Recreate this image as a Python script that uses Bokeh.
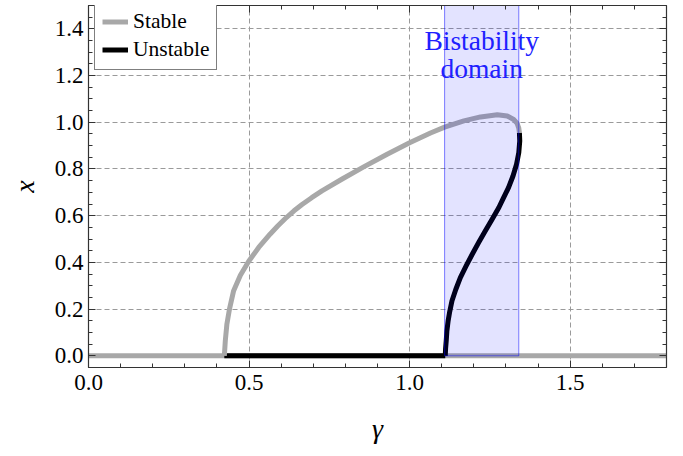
import numpy as np
from bokeh.plotting import figure
from bokeh.models import (Range1d, LinearAxis, FixedTicker, NumeralTickFormatter,
                          CustomJSTickFormatter, Legend, LegendItem, ColumnDataSource)
from bokeh.core.properties import value
from bokeh.embed import file_html
from bokeh.resources import INLINE

# ---------------- data ----------------
stable_upper_gamma = [0.423, 0.424, 0.426, 0.431, 0.439, 0.452, 0.473, 0.499, 0.530,
                      0.566, 0.590, 0.613, 0.640, 0.665, 0.695, 0.727, 0.790, 0.857,
                      0.930, 1.000, 1.065, 1.109, 1.169, 1.221, 1.273, 1.304, 1.324,
                      1.335, 1.340, 1.342]
stable_upper_x = [0.000, 0.020, 0.064, 0.136, 0.200, 0.279, 0.345, 0.405, 0.464,
                  0.522, 0.557, 0.588, 0.621, 0.648, 0.677, 0.706, 0.757, 0.809,
                  0.863, 0.912, 0.954, 0.979, 1.006, 1.023, 1.032, 1.027, 1.012,
                  0.995, 0.975, 0.955]

unstable_upper_gamma = [1.342, 1.343, 1.340, 1.333, 1.322, 1.308, 1.292, 1.278, 1.257,
                        1.236, 1.215, 1.195, 1.176, 1.158, 1.144, 1.132, 1.125, 1.120,
                        1.116, 1.114, 1.112, 1.111]
unstable_upper_x = [0.955, 0.920, 0.870, 0.820, 0.770, 0.720, 0.675, 0.635, 0.585,
                    0.535, 0.485, 0.435, 0.385, 0.335, 0.285, 0.236, 0.190, 0.150,
                    0.105, 0.064, 0.030, 0.000]

stable_zero_gamma = [0.0, 1.8]
stable_zero_x = [0.0, 0.0]
unstable_zero_gamma = [0.423, 1.111]
unstable_zero_x = [0.0, 0.0]

band_left = [1.109]
band_right = [1.340]
band_bottom = [0.0]
band_top = [1.6]

x_ticks = [0.0, 0.5, 1.0, 1.5]
y_ticks = [0.0, 0.2, 0.4, 0.6, 0.8, 1.0, 1.2, 1.4]
legend_labels = ["Stable", "Unstable"]
band_label = "Bistability\ndomain"
x_label = "γ"
y_label = "x"

# ---------------- styling ----------------
TEXT_FONT = "Liberation Serif"
GRAY = "#a8a8a8"
BLACK = "#000000"
X0, X1, Y0, Y1 = 0.0, 1.8, -0.05, 1.5

bottom_axis = LinearAxis(axis_label=x_label,
                         ticker=FixedTicker(ticks=x_ticks),
                         formatter=NumeralTickFormatter(format="0.0"),
                         major_label_text_font="Times",
                         major_label_text_font_size="23px",
                         axis_label_text_font="Times",
                         axis_label_text_font_style="italic",
                         axis_label_text_font_size="28px")
left_axis = LinearAxis(axis_label=y_label,
                       ticker=FixedTicker(ticks=y_ticks),
                       formatter=NumeralTickFormatter(format="0.0"),
                       major_label_text_font="Liberation Serif",
                       major_label_text_font_size="23px",
                       axis_label_text_font="Liberation Serif",
                       axis_label_text_font_style="italic",
                       axis_label_text_font_size="28px")

p = figure(width=683, height=456,
           x_range=Range1d(X0, X1), y_range=Range1d(Y0, Y1),
           output_backend="svg", toolbar_location=None,
           x_axis_location=None, y_axis_location=None,
           min_border_left=88, min_border_right=17,
           min_border_top=5, min_border_bottom=89)
p.outline_line_color = None
p.background_fill_color = "white"
p.border_fill_color = "white"
p.add_layout(bottom_axis, "below")
p.add_layout(left_axis, "left")

x_minor = np.round(np.arange(0.0, 1.8001, 0.1), 3).tolist()
y_minor = np.round(np.arange(-0.05, 1.5001, 0.05), 3).tolist()


def style_axis(ax, labels, ticker):
    ax.ticker = ticker
    ax.axis_line_color = "#333333"
    ax.axis_line_width = 1.2
    ax.major_tick_in = 7
    ax.major_tick_out = 0
    ax.minor_tick_in = 4
    ax.minor_tick_out = 0
    ax.major_tick_line_color = "#333333"
    ax.minor_tick_line_color = "#333333"
    ax.major_tick_line_width = 1
    ax.minor_tick_line_width = 1
    if labels:
        ax.major_label_text_color = "black"
        ax.axis_label_text_color = "black"
    else:
        ax.formatter = CustomJSTickFormatter(code="return '';")
        ax.major_label_text_font_size = "0px"
        ax.major_label_standoff = 0


style_axis(bottom_axis, True, FixedTicker(ticks=x_ticks, minor_ticks=x_minor))
style_axis(left_axis, True, FixedTicker(ticks=y_ticks, minor_ticks=y_minor))
bottom_axis.major_label_standoff = 7
left_axis.major_label_standoff = 5
bottom_axis.axis_label_standoff = 20
left_axis.axis_label_standoff = 12

top_ax = LinearAxis()
right_ax = LinearAxis()
style_axis(top_ax, False, FixedTicker(ticks=x_ticks, minor_ticks=x_minor))
style_axis(right_ax, False, FixedTicker(ticks=y_ticks, minor_ticks=y_minor))
p.add_layout(top_ax, "above")
p.add_layout(right_ax, "right")

p.xgrid.ticker = FixedTicker(ticks=x_ticks)
p.ygrid.ticker = FixedTicker(ticks=y_ticks)
for g in (p.xgrid, p.ygrid):
    g.grid_line_color = "#9a9a9a"
    g.grid_line_dash = "5 3"
    g.grid_line_width = 1

# ---------------- curves ----------------
LW = 5
r_s0 = p.line(stable_zero_gamma, stable_zero_x, line_width=LW, line_color=GRAY,
              line_cap="butt")
r_u0 = p.line(unstable_zero_gamma, unstable_zero_x, line_width=LW, line_color=BLACK,
              line_cap="butt")
r_s1 = p.line(stable_upper_gamma, stable_upper_x, line_width=LW, line_color=GRAY,
              line_cap="butt", line_join="round")
r_u1 = p.line(unstable_upper_gamma, unstable_upper_x, line_width=LW, line_color=BLACK,
              line_cap="butt", line_join="round")

# ---------------- bistability band ----------------
p.quad(left=band_left, right=band_right, bottom=band_bottom, top=band_top,
       fill_color="blue", fill_alpha=0.11, line_color="blue", line_alpha=0.5,
       line_width=1)

band_src = ColumnDataSource(dict(
    x=[(band_left[0] + band_right[0]) / 2.0],
    y=[1.29],
    t=[band_label]))
p.text(x="x", y="y", text="t", source=band_src,
       text_font=value(TEXT_FONT), text_font_size="27.5px", text_color="#2020ff",
       text_align="center", text_baseline="middle", text_line_height=0.9)

# ---------------- legend ----------------
legend = Legend(items=[LegendItem(label=legend_labels[0], renderers=[r_s1]),
                       LegendItem(label=legend_labels[1], renderers=[r_u1])],
                location=(6, 297))
legend.label_text_font = "serif"
legend.label_text_font_size = "21.5px"
legend.label_text_color = "black"
legend.label_height = 21
legend.glyph_height = 21
legend.glyph_width = 26
legend.label_standoff = 5
legend.spacing = 3
legend.padding = 7
legend.margin = 0
legend.border_line_color = "black"
legend.border_line_width = 1.5
legend.background_fill_color = "white"
legend.background_fill_alpha = 1.0
p.add_layout(legend, "center")

open("out.html", "w").write(file_html(p, INLINE))
